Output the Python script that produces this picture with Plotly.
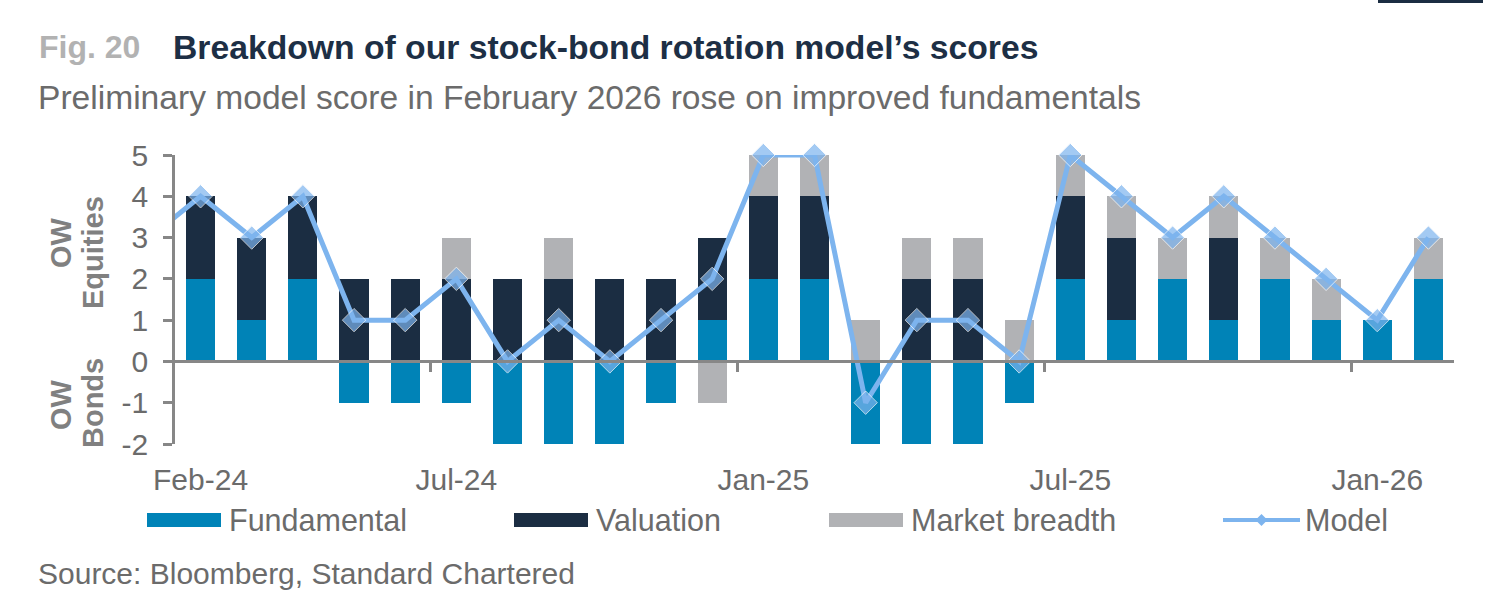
import plotly.graph_objects as go

# ---------------- data ----------------
months = ["Feb-24", "Mar-24", "Apr-24", "May-24", "Jun-24", "Jul-24", "Aug-24", "Sep-24",
          "Oct-24", "Nov-24", "Dec-24", "Jan-25", "Feb-25", "Mar-25", "Apr-25", "May-25",
          "Jun-25", "Jul-25", "Aug-25", "Sep-25", "Oct-25", "Nov-25", "Dec-25", "Jan-26", "Feb-26"]
fundamental = [2, 1, 2, -1, -1, -1, -2, -2, -2, -1, 1, 2, 2, -2, -2, -2, -1, 2, 1, 2, 1, 2, 1, 1, 2]
valuation = [2, 2, 2, 2, 2, 2, 2, 2, 2, 2, 2, 2, 2, 0, 2, 2, 0, 2, 2, 0, 2, 0, 0, 0, 0]
breadth = [0, 0, 0, 0, 0, 1, 0, 1, 0, 0, -1, 1, 1, 1, 1, 1, 1, 1, 1, 1, 1, 1, 1, 0, 1]
model = [4, 3, 4, 1, 1, 2, 0, 1, 0, 1, 2, 5, 5, -1, 1, 1, 0, 5, 4, 3, 4, 3, 2, 1, 3]
model_jan24 = 3  # previous month, only the lead-in segment is visible
tick_labels = ["Feb-24", "Jul-24", "Jan-25", "Jul-25", "Jan-26"]
y_ticks = [-2, -1, 0, 1, 2, 3, 4, 5]
series_names = ["Fundamental", "Valuation", "Market breadth", "Model"]

# ---------------- style ----------------
C_FUND = "#0083B7"
C_VAL = "#1B2D42"
C_BRE = "#B1B2B5"
C_MODEL = "#7DB4EE"
C_AXIS = "#878787"
C_TEXT = "#6B6B6B"
C_SIDE = "#808080"
FONT = "Liberation Sans, Arial, sans-serif"

W, H = 1495, 594
L, R, T, B = 175, 41, 155, 150
PW, PH = W - L - R, H - T - B


def px(xp):
    return (xp - L) / PW


def py(yp):
    return (H - B - yp) / PH


idx = list(range(len(months)))
fig = go.Figure()
for name, vals, col in [(series_names[0], fundamental, C_FUND),
                        (series_names[1], valuation, C_VAL),
                        (series_names[2], breadth, C_BRE)]:
    fig.add_trace(go.Bar(x=idx, y=vals, name=name, marker=dict(color=col, line=dict(width=0)),
                         width=0.57, showlegend=False))

fig.add_trace(go.Scatter(x=[-1] + idx, y=[model_jan24] + model, name=series_names[3],
                         mode="lines+markers", cliponaxis=False,
                         line=dict(color=C_MODEL, width=5),
                         marker=dict(symbol="diamond", size=[0] + [18] * len(idx), color=C_MODEL),
                         showlegend=False, xaxis="x2"))

label_pos = [months.index(t) for t in tick_labels]
boundary_ticks = [p - 0.5 for p in label_pos[1:]]

fig.update_layout(
    width=W, height=H,
    margin=dict(l=L, r=R, t=T, b=B, pad=0),
    paper_bgcolor="white", plot_bgcolor="white",
    barmode="relative", bargap=0,
    font=dict(family=FONT, color=C_TEXT, size=30),
    xaxis=dict(range=[-0.5, len(idx) - 0.5], tickvals=label_pos, ticktext=tick_labels,
               showline=False, showgrid=False, zeroline=False, ticks="",
               ticklabelstandoff=15, tickfont=dict(size=30, color=C_TEXT)),
    xaxis2=dict(range=[-0.5, len(idx) - 0.5], overlaying="x", anchor="free", position=2 / 7,
                side="bottom", showline=True, linecolor=C_AXIS, linewidth=2.5,
                ticks="outside", ticklen=9, tickwidth=2.5, tickcolor=C_AXIS,
                tickvals=boundary_ticks, showticklabels=False, showgrid=False, zeroline=False),
    yaxis=dict(range=[-2, 5], tickvals=y_ticks, ticktext=[str(v) for v in y_ticks],
               showline=True, linecolor=C_AXIS,
               linewidth=2.5, ticks="outside", ticklen=9, tickwidth=2.5, tickcolor=C_AXIS,
               showgrid=False, zeroline=False, ticklabelstandoff=9,
               tickfont=dict(size=30, color=C_TEXT)),
    showlegend=False,
)

ann = []
# titles
ann.append(dict(x=px(37), y=py(47), xref="paper", yref="paper", xanchor="left", yanchor="middle",
                text="<b>Fig. 20</b>", showarrow=False, font=dict(size=32, color="#B2B2B2")))
ann.append(dict(x=px(171), y=py(47), xref="paper", yref="paper", xanchor="left", yanchor="middle",
                text="<b>Breakdown of our stock-bond rotation model’s scores</b>", showarrow=False,
                font=dict(size=33.7, color="#1D2F45")))
ann.append(dict(x=px(36), y=py(97), xref="paper", yref="paper", xanchor="left", yanchor="middle",
                text="Preliminary model score in February 2026 rose on improved fundamentals",
                showarrow=False, font=dict(size=33.6, color=C_TEXT)))
ann.append(dict(x=px(36), y=py(573), xref="paper", yref="paper", xanchor="left", yanchor="middle",
                text="Source: Bloomberg, Standard Chartered", showarrow=False,
                font=dict(size=30, color=C_TEXT)))
# axis side labels
for txt, xc, yc in [("OW", 61, 243), ("Equities", 93, 253), ("OW", 61, 405), ("Bonds", 93, 403)]:
    ann.append(dict(x=px(xc), y=py(yc), xref="paper", yref="paper", xanchor="center",
                    yanchor="middle", text=f"<b>{txt}</b>", textangle=-90, showarrow=False,
                    font=dict(size=29, color=C_SIDE)))

shapes = []
# manual legend (wide swatches like the original)
leg_y = 520
leg_items = [(series_names[0], C_FUND, 147), (series_names[1], C_VAL, 514),
             (series_names[2], C_BRE, 829)]
for name, col, x0 in leg_items:
    shapes.append(dict(type="rect", xref="paper", yref="paper", x0=px(x0), x1=px(x0 + 74),
                       y0=py(leg_y + 7), y1=py(leg_y - 7), fillcolor=col, line=dict(width=0)))
    ann.append(dict(x=px(x0 + 80), y=py(leg_y), xref="paper", yref="paper", xanchor="left",
                    yanchor="middle", text=name, showarrow=False, font=dict(size=30.5, color=C_TEXT)))
mx0 = 1223
shapes.append(dict(type="line", xref="paper", yref="paper", x0=px(mx0), x1=px(mx0 + 77),
                   y0=py(leg_y), y1=py(leg_y), line=dict(color=C_MODEL, width=4)))
cx, d = mx0 + 38.5, 6
shapes.append(dict(type="path", xref="paper", yref="paper",
                   path=f"M {px(cx - d)} {py(leg_y)} L {px(cx)} {py(leg_y - d)} L {px(cx + d)} {py(leg_y)} L {px(cx)} {py(leg_y + d)} Z",
                   fillcolor=C_MODEL, line=dict(width=0)))
ann.append(dict(x=px(mx0 + 80), y=py(leg_y), xref="paper", yref="paper", xanchor="left",
                yanchor="middle", text=series_names[3], showarrow=False,
                font=dict(size=30.5, color=C_TEXT)))
# decorative bar top right
shapes.append(dict(type="rect", xref="paper", yref="paper", x0=px(1378), x1=px(1483),
                   y0=py(3), y1=py(0), fillcolor="#1B2D42", line=dict(width=0)))

fig.update_layout(annotations=ann, shapes=shapes)
fig.write_html("out.html")
